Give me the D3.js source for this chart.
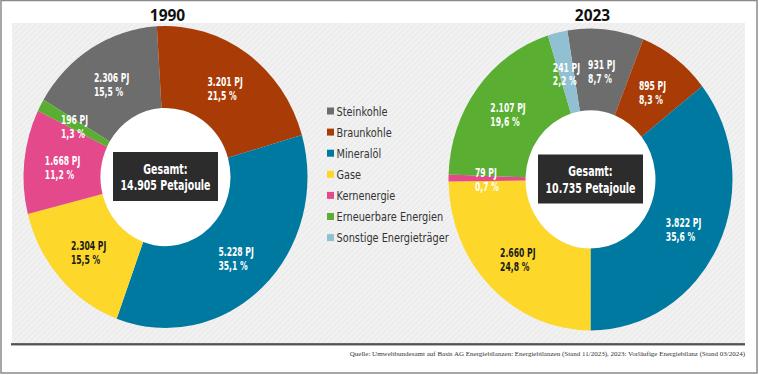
<!DOCTYPE html>
<html>
<head>
<meta charset="utf-8">
<script src="https://cdn.jsdelivr.net/npm/d3@7"></script>
<style>
  body { margin: 0; background: #fff; }
  svg { display: block; }
  .cond { font-family: "DejaVu Sans", sans-serif; }
</style>
</head>
<body>
<div id="chart"></div>
<script>
var categories = ["Steinkohle", "Braunkohle", "Mineralöl", "Gase", "Kernenergie", "Erneuerbare Energien", "Sonstige Energieträger"];
var colors = ["#6d6d6d", "#a93c06", "#0079a1", "#fdd82a", "#e4498b", "#5aae32", "#91c0d3"];
var values1990 = [2306, 3201, 5228, 2304, 1668, 196, 0];
var pct1990 = [15.5, 21.5, 35.1, 15.5, 11.2, 1.3, 0];
var values2023 = [931, 895, 3822, 2660, 79, 2107, 241];
var pct2023 = [8.7, 8.3, 35.6, 24.8, 0.7, 19.6, 2.2];
var totals = [14905, 10735];
var years = ["1990", "2023"];
var source = "Quelle: Umweltbundesamt auf Basis AG Energiebilanzen: Energiebilanzen (Stand 11/2023), 2023: Vorläufige Energiebilanz (Stand 03/2024)";

var width = 759, height = 375;
var de = d3.formatLocale({decimal: ",", thousands: ".", grouping: [3], currency: ["", " €"]});
var fmtPJ = de.format(",.0f");
var fmtPct = de.format(".1f");

// no condensed font installed, so squeeze text horizontally
var kLabel = 0.64, kBox = 0.7, kLegend = 0.75;

var svg = d3.select("#chart").append("svg")
  .attr("width", width)
  .attr("height", height);

// hatched background
var defs = svg.append("defs");
var pat = defs.append("pattern")
  .attr("id", "hatch")
  .attr("width", 4).attr("height", 4)
  .attr("patternUnits", "userSpaceOnUse")
  .attr("patternTransform", "rotate(45)");
pat.append("rect").attr("width", 4).attr("height", 4).attr("fill", "#ededed");
pat.append("line").attr("x1", 0).attr("y1", 0).attr("x2", 0).attr("y2", 4)
  .attr("stroke", "#f8f8f8").attr("stroke-width", 1.6);

svg.append("rect")
  .attr("x", 1).attr("y", 0.5).attr("width", 756).attr("height", 372.5)
  .attr("fill", "#fff").attr("stroke", "#8a8a8a").attr("stroke-width", 1.5);

svg.append("rect")
  .attr("x", 12).attr("y", 23).attr("width", 733).attr("height", 320)
  .attr("fill", "url(#hatch)");

svg.append("line")
  .attr("x1", 11).attr("x2", 745).attr("y1", 345).attr("y2", 345)
  .attr("stroke", "#9a9a9a").attr("stroke-width", 1.5);
svg.append("line")
  .attr("x1", 11).attr("x2", 745).attr("y1", 344).attr("y2", 344)
  .attr("stroke", "#333").attr("stroke-width", 1.3);

svg.append("text")
  .attr("x", 745).attr("y", 356)
  .attr("text-anchor", "end")
  .attr("font-family", "Liberation Serif, DejaVu Serif, serif")
  .attr("font-size", 7)
  .attr("fill", "#333")
  .text(source);

var rx = 142, sy = 1.063, rIn = 65;
var arc = d3.arc().innerRadius(rIn).outerRadius(rx);

var pies = [
  {year: years[0], values: values1990, pct: pct1990, total: totals[0], cx: 165.5, cy: 177, start: -59.2},
  {year: years[1], values: values2023, pct: pct2023, total: totals[1], cx: 590.5, cy: 179.5, start: -9.4}
];

pies.forEach(function(p) {
  var rows = categories.map(function(c, i) {
    return {name: c, value: p.values[i], pct: p.pct[i], color: colors[i]};
  });
  var a0 = p.start * Math.PI / 180;
  var pie = d3.pie().sort(null).value(function(d) { return d.value; })
    .startAngle(a0).endAngle(a0 + 2 * Math.PI);
  var arcs = pie(rows).filter(function(d) { return d.data.value > 0; });

  svg.append("text")
    .attr("x", p.cx + 2).attr("y", 21)
    .attr("text-anchor", "middle")
    .attr("font-family", "Open Sans, sans-serif")
    .attr("font-weight", "bold")
    .attr("font-size", 15.5)
    .attr("fill", "#111")
    .text(p.year);

  var g = svg.append("g")
    .attr("transform", "translate(" + p.cx + "," + p.cy + ") scale(1," + sy + ")");

  g.append("circle").attr("r", rIn).attr("fill", "#fff");

  g.selectAll("path")
    .data(arcs)
    .join("path")
      .attr("d", arc)
      .attr("fill", function(d) { return d.data.color; });

  // labels
  var lg = svg.append("g").attr("transform", "translate(" + p.cx + "," + p.cy + ")");
  arcs.forEach(function(d) {
    var c = arc.centroid(d);
    var t = lg.append("g").attr("class", "cond");
    var fill = d.data.color === "#fdd82a" ? "#1a1a1a" : "#fff";
    var l1 = t.append("text")
      .attr("y", -1)
      .attr("font-size", 12).attr("font-weight", "bold").attr("fill", fill)
      .text(fmtPJ(d.data.value) + " PJ");
    var l2 = t.append("text")
      .attr("y", 13)
      .attr("font-size", 12).attr("font-weight", "bold").attr("fill", fill)
      .text(fmtPct(d.data.pct) + " %");
    var w = kLabel * Math.max(l1.node().getComputedTextLength(), l2.node().getComputedTextLength());
    t.attr("transform", "translate(" + (c[0] - w / 2) + "," + (c[1] * sy) + ") scale(" + kLabel + ",1)");
  });

  // total box
  var bw = 105, bh = 49;
  var box = svg.append("g").attr("transform", "translate(" + (p.cx - bw / 2) + "," + (p.cy - 25) + ")");
  box.append("rect").attr("width", bw).attr("height", bh).attr("fill", "#2c2c2c");
  var bt = box.append("g").attr("class", "cond")
    .attr("transform", "translate(" + (bw / 2) + ",0) scale(" + kBox + ",1)");
  bt.append("text")
    .attr("y", 22)
    .attr("text-anchor", "middle")
    .attr("font-size", 13.5).attr("font-weight", "bold").attr("fill", "#fff")
    .text("Gesamt:");
  bt.append("text")
    .attr("y", 38.5)
    .attr("text-anchor", "middle")
    .attr("font-size", 13.5).attr("font-weight", "bold").attr("fill", "#fff")
    .text(fmtPJ(p.total) + " Petajoule");
});

// legend
var legend = svg.append("g").attr("transform", "translate(327,111)");
legend.selectAll("g")
  .data(categories)
  .join("g")
  .each(function(d, i) {
    var g = d3.select(this);
    g.append("rect")
      .attr("x", 0).attr("y", i * 21.1 - 3.5)
      .attr("width", 7).attr("height", 7)
      .attr("fill", colors[i]);
    g.append("text").attr("class", "cond")
      .attr("transform", "translate(9.5," + (i * 21.1 + 4.5) + ") scale(" + kLegend + ",1)")
      .attr("font-size", 13)
      .attr("fill", "#333")
      .text(d);
  });
</script>
</body>
</html>
